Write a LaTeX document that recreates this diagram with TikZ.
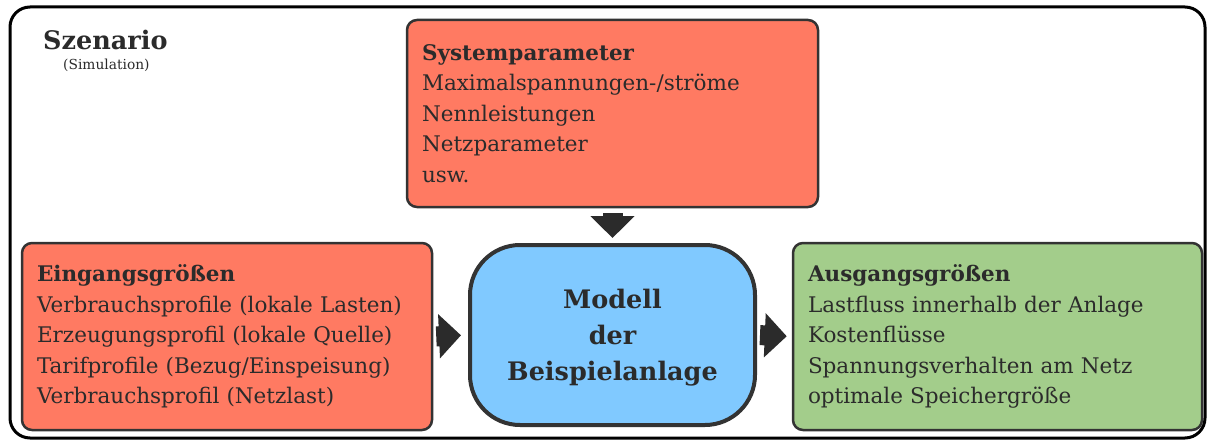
\documentclass[tikz,border=0pt]{standalone}
\usepackage{fontspec}
\setmainfont{DejaVu Serif}
\usetikzlibrary{arrows.meta}
\definecolor{boxred}{HTML}{FF7A62}
\definecolor{boxgreen}{HTML}{A3CD8B}
\definecolor{boxblue}{HTML}{80C9FF}
\definecolor{ink}{HTML}{2B2B2B}
\definecolor{rim}{HTML}{333333}
\begin{document}
\begin{tikzpicture}[x=1pt,y=-1pt,
  infobox/.style={draw=rim, line width=2.5pt, rounded corners=10pt,
    minimum height=187pt, inner xsep=15pt, inner ysep=0pt,
    align=left, text=ink, font=\fontsize{21.5}{30.5}\selectfont},
  modelbox/.style={draw=rim, line width=4pt, rounded corners=50pt,
    fill=boxblue, minimum width=285pt, minimum height=180pt},
  modeltext/.style={align=center, text=ink, inner sep=0pt,
    font=\bfseries\fontsize{25.5}{36}\selectfont},
  flow/.style={draw=ink, line width=20pt, line cap=butt,
    -{Triangle[width=43pt,length=22pt]}}]
\useasboundingbox (0,0) rectangle (1213,441);

% scenario frame
\draw[line width=3pt, rounded corners=20pt] (10,7) rectangle (1205,438);
\node[anchor=base west, inner sep=0pt, text=ink, font=\bfseries\fontsize{25.5}{28}\selectfont] (szen) at (43,50) {Szenario};
\node[anchor=base west, inner sep=0pt, text=ink, font=\fontsize{13.8}{16}\selectfont] (sim) at (63,70) {(Simulation)};

% parameter, input and output boxes
\node[infobox, fill=boxred, text width=381pt] (sys) at (612.5,113.5)
  {\textbf{Systemparameter}\\Maximalspannungen-/ströme\\Nennleistungen\\Netzparameter\\usw.};
\node[infobox, fill=boxred, text width=380pt] (ein) at (227,336.5)
  {\textbf{Eingangsgrößen}\\Verbrauchsprofile (lokale Lasten)\\Erzeugungsprofil (lokale Quelle)\\Tarifprofile (Bezug/Einspeisung)\\Verbrauchsprofil (Netzlast)};
\node[infobox, fill=boxgreen, text width=379pt] (aus) at (997.5,336.5)
  {\textbf{Ausgangsgrößen}\\Lastfluss innerhalb der Anlage\\Kostenflüsse\\Spannungsverhalten am Netz\\optimale Speichergröße};

% model
\node[modelbox] (mod) at (612.5,335) {};
\node[modeltext] (modlabel) at ([yshift=-3pt]mod.center) {Modell\\der\\Beispielanlage};

% flow arrows
\draw[flow, shorten <=5pt, shorten >=5pt] (sys.south) -- (mod.north);
\draw[flow, shorten <=3pt, shorten >=7pt] (ein.east) -- (mod.west);
\draw[flow, shorten <=3pt, shorten >=5pt] (mod.east) -- (aus.west);
\end{tikzpicture}
\end{document}
